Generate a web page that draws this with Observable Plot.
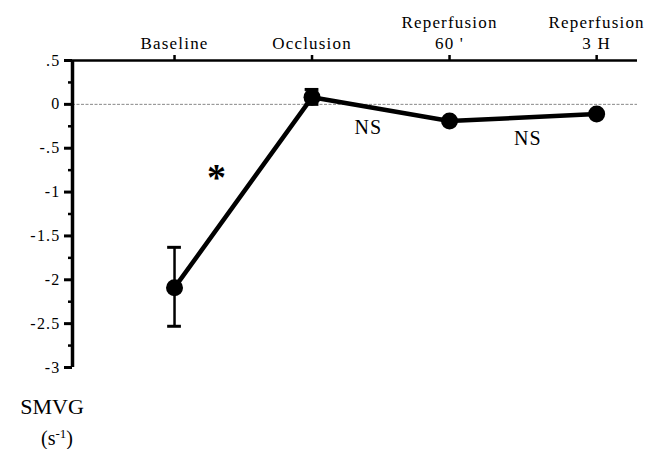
<!DOCTYPE html>
<html><head><meta charset="utf-8">
<script src="https://cdn.jsdelivr.net/npm/d3@7"></script>
<script src="https://cdn.jsdelivr.net/npm/@observablehq/plot@0.6"></script>
<style>
body{margin:0;background:#fff;}
#chart{position:relative;width:646px;height:449px;font-family:"Liberation Serif","Times New Roman",serif;background:#fff;}
#chart svg, #chart svg text{font-family:"Liberation Serif","Times New Roman",serif !important;}
#chart svg text{letter-spacing:1.2px;}
#chart g[aria-label="ns-note"] text{letter-spacing:3px;}
.cap{position:absolute;left:0;text-align:center;color:#000;white-space:nowrap;font-family:"Liberation Serif","Times New Roman",serif;}
#cap1{top:396px;width:104px;font-size:22px;line-height:22px;}
#cap2{top:427px;width:114px;font-size:20px;line-height:22px;}
#cap2 sup{font-size:13px;vertical-align:7px;line-height:0;}
</style></head><body><div id="chart"></div>
<div class="cap" id="cap1">SMVG</div>
<div class="cap" id="cap2">(s<sup>-1</sup>)</div>
<script>
const phases = ["Baseline", "Occlusion", "Reperfusion\n60 '", "Reperfusion\n3 H"];
const phasePos = [0, 1, 2, 3.07];
const smvg = [-2.09, 0.08, -0.19, -0.11];
const errLow = [-2.53, 0.0, null, null];
const errHigh = [-1.63, 0.17, null, null];
const yTicks = [0.5, 0, -0.5, -1, -1.5, -2, -2.5, -3];
const yTickLabels = [".5", "0", "-.5", "-1", "-1.5", "-2", "-2.5", "-3"];
const yMinorTicks = [0.25, -0.25, -0.75, -1.25, -1.75, -2.25, -2.75];
const starNote = {text: "*", x: 0.31, y: -0.78};
const nsNotes = [{text: "NS", x: 1.41, y: -0.27}, {text: "NS", x: 2.57, y: -0.39}];
const xDomain = [-0.742, 3.367];
const yDomain = [-3, 0.5];

const data = phases.map((p, i) => ({phase: p, x: phasePos[i], y: smvg[i], lo: errLow[i], hi: errHigh[i]}));
const errData = data.filter(d => d.lo != null);
const capData = errData.flatMap(d => [{x: d.x, v: d.lo}, {x: d.x, v: d.hi}]);

const chart = Plot.plot({
  width: 646, height: 385,
  marginLeft: 72, marginRight: 9, marginTop: 60, marginBottom: 18,
  x: {domain: xDomain},
  y: {domain: yDomain},
  style: {background: "white", color: "black"},
  marks: [
    Plot.ruleY([0], {stroke: "#888", strokeDasharray: "3,1.5", strokeWidth: 1}),
    Plot.ruleY([yDomain[1]], {stroke: "black", strokeWidth: 2.5}),
    Plot.ruleX([xDomain[0]], {y1: yDomain[0], y2: yDomain[1], stroke: "black", strokeWidth: 3.5}),
    Plot.axisX(phasePos, {anchor: "top", tickSize: 6, tickPadding: 6, strokeWidth: 2.5, fontSize: 17, lineHeight: 1.2,
      tickFormat: d => phases[phasePos.indexOf(d)], label: null}),
    Plot.axisY(yTicks, {anchor: "left", tickSize: 8, tickPadding: 4, strokeWidth: 3, fontSize: 16,
      tickFormat: d => yTickLabels[yTicks.indexOf(d)], label: null}),
    Plot.axisY(yMinorTicks, {anchor: "left", tickSize: 4, strokeWidth: 2.5, tickFormat: () => "", label: null}),
    Plot.ruleX(errData, {x: "x", y1: "lo", y2: "hi", stroke: "black", strokeWidth: 2.5}),
    Plot.ruleY(capData, {y: "v", x1: d => d.x - 0.05, x2: d => d.x + 0.05, stroke: "black", strokeWidth: 3}),
    Plot.line(data, {x: "x", y: "y", stroke: "black", strokeWidth: 4.5}),
    Plot.dot(data, {x: "x", y: "y", r: 8.5, fill: "black"}),
    Plot.text([starNote], {x: "x", y: "y", text: "text", fontSize: 38, fontWeight: "bold", dy: 5}),
    Plot.text(nsNotes, {x: "x", y: "y", text: "text", fontSize: 20, ariaLabel: "ns-note"})
  ]
});
document.getElementById("chart").appendChild(chart);
</script>
</body></html>
